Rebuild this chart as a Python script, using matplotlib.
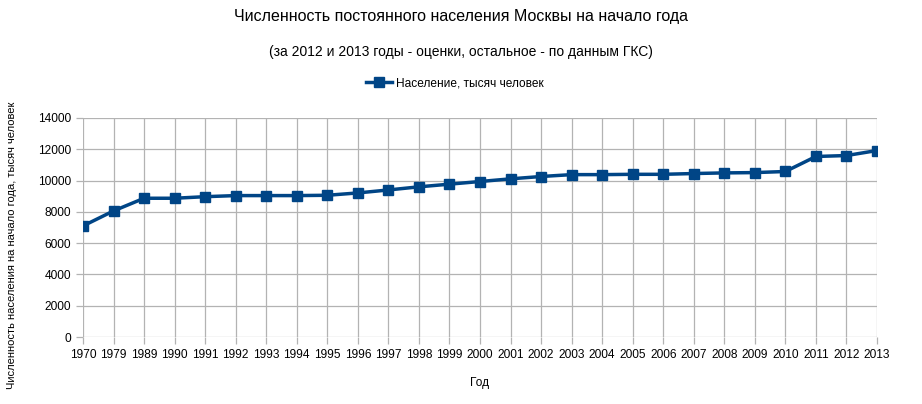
import matplotlib
matplotlib.use('Agg')
import matplotlib.pyplot as plt

# годы и население (тыс. человек)
years = ['1970', '1979', '1989', '1990', '1991', '1992', '1993', '1994', '1995',
         '1996', '1997', '1998', '1999', '2000', '2001', '2002', '2003', '2004',
         '2005', '2006', '2007', '2008', '2009', '2010', '2011', '2012', '2013']
population = [7100, 8060, 8870, 8870, 8970, 9040, 9040, 9040, 9060,
              9210, 9400, 9600, 9770, 9940, 10110, 10260, 10380, 10380,
              10400, 10400, 10450, 10490, 10510, 10580, 11540, 11600, 11920]
yticks = [0, 2000, 4000, 6000, 8000, 10000, 12000, 14000]

plt.rcParams['font.family'] = ['Liberation Sans', 'DejaVu Sans']

fig = plt.figure(figsize=(9.22, 4.04), dpi=100)
ax = fig.add_axes([83/922, 1-337/404, (877-83)/922, (337-118)/404])

x = list(range(len(years)))
ax.plot(x, population, color='#004586', linewidth=2.5, marker='s', markersize=7.5,
        label='Население, тысяч человек')

ax.set_xlim(0, len(years)-1)
ax.set_ylim(0, 14000)
ax.set_xticks(x)
ax.set_xticklabels(years, fontsize=8.6)
ax.set_yticks(yticks)
ax.set_yticklabels([str(v) for v in yticks], fontsize=8.6)
ax.grid(True, color='#b3b3b3', linewidth=0.9)
ax.set_axisbelow(True)
for s in ax.spines.values():
    s.set_visible(False)
ax.tick_params(axis='both', colors='#b3b3b3', labelcolor='black', length=5, width=0.9)

ax.set_xlabel('Год', fontsize=8.6, labelpad=12)
fig.text(12/922, 1-245/404, 'Численность населения на начало года, тысяч человек',
         rotation=90, fontsize=8, ha='center', va='center')

fig.text(0.5, 1-17/404, 'Численность постоянного населения Москвы на начало года',
         fontsize=11.5, ha='center', va='center')
fig.text(0.5, 1-52/404, '(за 2012 и 2013 годы - оценки, остальное - по данным ГКС)',
         fontsize=10, ha='center', va='center')
fig.legend(loc='center', bbox_to_anchor=(455/922, 1-83/404), frameon=False,
           fontsize=8.6, handlelength=2.2, handletextpad=0.3, borderpad=0)

fig.savefig('out.png', dpi=100)
